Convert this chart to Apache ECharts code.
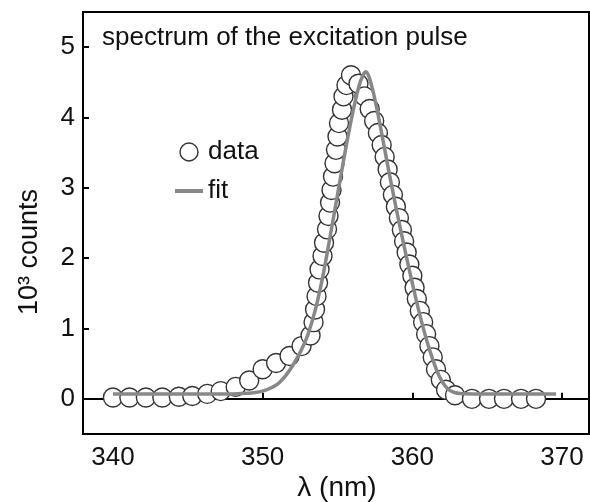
<!DOCTYPE html>
<html>
<head>
<meta charset="utf-8">
<script src="https://cdn.jsdelivr.net/npm/echarts@6/dist/echarts.min.js"></script>
<style>html,body{margin:0;padding:0;background:#fff}#c{width:590px;height:502px}</style>
</head>
<body>
<div id="c"></div>
<script>
// measured data points (wavelength in nm, counts in 10^3)
var dataX = [340.0, 341.1, 342.2, 343.3, 344.4, 345.3, 346.3, 347.2, 348.2, 349.1,
  350.0, 350.9, 351.8, 352.6, 353.2, 353.4, 353.5, 353.6, 353.7, 353.8,
  354.0, 354.1, 354.3, 354.4, 354.5, 354.6, 354.7, 354.8, 354.9, 355.0,
  355.1, 355.3, 355.4, 355.6, 355.9, 356.4, 356.8, 357.15, 357.45, 357.7,
  357.95, 358.15, 358.35, 358.5, 358.7, 358.9, 359.1, 359.3, 359.45, 359.62,
  359.8, 360.0, 360.15, 360.3, 360.5, 360.72, 360.92, 361.14, 361.36, 361.58,
  361.9, 362.25, 362.85, 363.98, 365.12, 366.12, 367.26, 368.26];
var dataY = [0.02, 0.02, 0.02, 0.02, 0.03, 0.04, 0.07, 0.11, 0.17, 0.26,
  0.42, 0.51, 0.61, 0.75, 0.90, 1.09, 1.27, 1.46, 1.65, 1.84,
  2.03, 2.22, 2.41, 2.60, 2.79, 2.97, 3.16, 3.35, 3.54, 3.73,
  3.92, 4.11, 4.30, 4.46, 4.60, 4.48, 4.30, 4.12, 3.95, 3.78,
  3.61, 3.44, 3.26, 3.08, 2.90, 2.73, 2.57, 2.40, 2.24, 2.08,
  1.91, 1.75, 1.58, 1.42, 1.25, 1.09, 0.92, 0.75, 0.59, 0.42,
  0.27, 0.13, 0.05, 0.00, 0.00, 0.00, 0.00, 0.00];
// fit curve
var fitX = [340, 342, 344, 346, 348, 349, 349.5, 350, 350.5, 351, 351.5, 352, 352.5, 353,
  353.5, 354, 354.5, 355, 355.5, 356, 356.4, 356.7, 356.9, 357.1, 357.4, 357.7, 358,
  358.3, 358.6, 358.9, 359.2, 359.5, 359.8, 360.1, 360.4, 360.7, 361, 361.3, 361.6,
  361.9, 362.2, 362.5, 362.8, 363.2, 364, 366, 368, 369.6];
var fitY = [0.07, 0.07, 0.07, 0.07, 0.07, 0.08, 0.09, 0.11, 0.15, 0.21, 0.32, 0.47, 0.66, 0.90,
  1.25, 1.72, 2.30, 2.90, 3.50, 4.05, 4.42, 4.60, 4.65, 4.58, 4.35, 4.05, 3.72,
  3.38, 3.05, 2.73, 2.42, 2.12, 1.83, 1.55, 1.28, 1.03, 0.80, 0.60, 0.42,
  0.28, 0.18, 0.12, 0.09, 0.075, 0.07, 0.07, 0.07, 0.07];
var xTicks = [340, 350, 360, 370];
var yTicks = [0, 1, 2, 3, 4, 5];

var FONT = '"Liberation Sans", Arial, sans-serif';
var chart = echarts.init(document.getElementById('c'));
chart.setOption({
  animation: false,
  backgroundColor: '#fff',
  grid: { left: 83, right: 1, top: 12, bottom: 68, show: true, borderColor: '#000', borderWidth: 2, backgroundColor: 'transparent' },
  legend: {
    orient: 'vertical', left: 175, top: 139, padding: 0, itemWidth: 28, itemHeight: 18, itemGap: 13,
    textStyle: { fontFamily: FONT, fontSize: 26, color: '#111', padding: [0, 0, 0, 0] },
    data: [
      { name: 'data', icon: 'circle', itemStyle: { color: '#fff', borderColor: '#333', borderWidth: 1.4 } },
      { name: 'fit', icon: 'path://M0,0L28,0L28,4L0,4Z', itemStyle: { color: '#888', borderWidth: 0 } }
    ]
  },
  xAxis: {
    type: 'value', min: 338, max: 371.8,
    axisLine: { show: true, lineStyle: { color: '#000', width: 2 } },
    axisTick: { show: true, inside: true, length: 6, customValues: xTicks, lineStyle: { color: '#000', width: 2 } },
    axisLabel: { customValues: xTicks, fontFamily: FONT, fontSize: 26, color: '#111', margin: 11 },
    splitLine: { show: false }
  },
  yAxis: {
    type: 'value', min: -0.5, max: 5.5,
    axisLine: { show: true, lineStyle: { color: '#000', width: 2 } },
    axisTick: { show: true, inside: true, length: 6, customValues: yTicks, lineStyle: { color: '#000', width: 2 } },
    axisLabel: { customValues: yTicks, fontFamily: FONT, fontSize: 26, color: '#111', margin: 8 },
    splitLine: { show: false }
  },
  graphic: [
    { type: 'text', left: 102, top: 25, style: { text: 'spectrum of the excitation pulse', font: '26px ' + FONT, fill: '#111' } },
    { type: 'text', x: 30, y: 252, rotation: Math.PI / 2, style: { text: '10³ counts', font: '27px ' + FONT, fill: '#111', align: 'center', verticalAlign: 'middle' } },
    { type: 'text', x: 337, y: 488, style: { text: 'λ (nm)', font: '28px ' + FONT, fill: '#111', align: 'center', verticalAlign: 'middle' } }
  ],
  series: [
    {
      name: 'data', type: 'scatter', symbol: 'circle', symbolSize: 19, z: 2,
      itemStyle: { color: '#fff', borderColor: '#333', borderWidth: 1.4, opacity: 1 },
      data: dataX.map(function (x, i) { return [x, dataY[i]]; })
    },
    {
      name: 'fit', type: 'line', showSymbol: false, smooth: 0.3, z: 3,
      lineStyle: { color: '#888', width: 3.5 },
      itemStyle: { color: '#888' },
      data: fitX.map(function (x, i) { return [x, fitY[i]]; })
    }
  ]
});
</script>
</body>
</html>
